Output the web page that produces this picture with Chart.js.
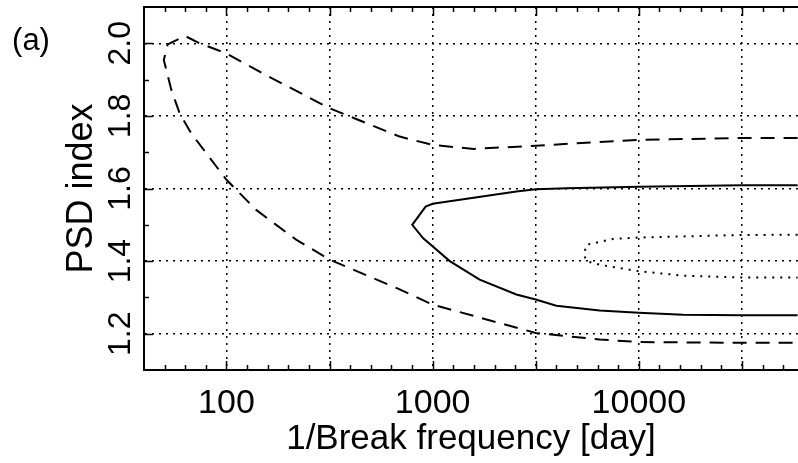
<!DOCTYPE html>
<html>
<head>
<meta charset="utf-8">
<script src="https://cdn.jsdelivr.net/npm/chart.js@4.4.1/dist/chart.umd.min.js"></script>
<style>
  html, body { margin: 0; padding: 0; background: #fff; }
  #wrap { width: 798px; height: 463px; position: relative; }
</style>
</head>
<body>
<div id="wrap"><canvas id="psdChart"></canvas></div>
<script>
// contour data, x is log10(1/break frequency [day]), y is PSD index
const dashedLogT = [4.77, 4.5, 4.0, 3.5, 3.2, 3.0, 2.84, 2.5, 2.19, 2.0, 1.87, 1.80, 1.715, 1.696, 1.733, 1.773, 1.829, 2.0, 2.144, 2.338, 2.5, 2.84, 3.0, 3.5, 3.81, 4.0, 4.5, 4.77];
const dashedIdx  = [1.739, 1.739, 1.734, 1.718, 1.709, 1.72, 1.743, 1.821, 1.913, 1.972, 2.0, 2.02, 1.997, 1.954, 1.871, 1.807, 1.752, 1.624, 1.541, 1.459, 1.404, 1.322, 1.28, 1.202, 1.184, 1.177, 1.175, 1.175];

const solidLogT = [4.77, 4.5, 4.0, 3.65, 3.5, 3.406, 3.0, 2.966, 2.901, 2.953, 3.083, 3.228, 3.406, 3.5, 3.6, 3.81, 4.0, 4.215, 4.5, 4.77];
const solidIdx  = [1.609, 1.609, 1.605, 1.601, 1.598, 1.592, 1.558, 1.55, 1.5, 1.4635, 1.4, 1.349, 1.308, 1.294, 1.277, 1.264, 1.258, 1.2525, 1.251, 1.251];

const dottedLogT = [4.77, 4.5, 4.0, 3.875, 3.746, 3.734, 3.746, 3.81, 4.0, 4.215, 4.5, 4.77];
const dottedIdx  = [1.4725, 1.472, 1.465, 1.461, 1.445, 1.418, 1.40, 1.39, 1.372, 1.36, 1.355, 1.355];

const xGridTicks = [2, 2.5, 3, 3.5, 4, 4.5];
const xTickLabels = { 2: '100', 3: '1000', 4: '10000' };
const yGridTicks = [1.2, 1.4, 1.6, 1.8, 2.0];

const FONT = '"Liberation Sans", Arial, Helvetica, sans-serif';

function toPoints(xs, ys) {
    return xs.map((x, i) => ({ x: x, y: ys[i] }));
}

// inward tick marks, top frame line and the "(a)" panel label
const framePlugin = {
    id: 'frame',
    afterDraw(chart) {
        const ctx = chart.ctx;
        const area = chart.chartArea;
        const xs = chart.scales.x;
        const ys = chart.scales.y;
        ctx.save();
        ctx.strokeStyle = '#000';
        ctx.lineWidth = 2;
        ctx.beginPath();
        ctx.moveTo(area.left, area.top);
        ctx.lineTo(area.right, area.top);
        ctx.stroke();

        ctx.lineWidth = 1.5;
        ctx.beginPath();
        for (let i = 17; i <= 47; i++) {
            const v = i / 10;
            const px = Math.round(xs.getPixelForValue(v)) + 0.5;
            if (px > area.right) continue;
            const len = (i % 5 === 0) ? 9 : 5;
            ctx.moveTo(px, area.bottom);
            ctx.lineTo(px, area.bottom - len);
            ctx.moveTo(px, area.top);
            ctx.lineTo(px, area.top + len);
        }
        for (let i = 12; i <= 20; i++) {
            const v = i / 10;
            const py = Math.round(ys.getPixelForValue(v)) + 0.5;
            const len = (i % 2 === 0) ? 9 : 5;
            ctx.moveTo(area.left, py);
            ctx.lineTo(area.left + len, py);
        }
        ctx.stroke();

        ctx.fillStyle = '#000';
        ctx.font = '31px ' + FONT;
        ctx.textAlign = 'center';
        ctx.textBaseline = 'middle';
        ctx.fillText('(a)', 31, 41);
        ctx.restore();
    }
};

const ctx = document.getElementById('psdChart').getContext('2d');
new Chart(ctx, {
    type: 'scatter',
    data: {
        datasets: [
            {
                label: 'outer',
                data: toPoints(dashedLogT, dashedIdx),
                showLine: true,
                borderColor: '#000',
                borderWidth: 2,
                borderDash: [14, 9],
                pointRadius: 0,
                tension: 0,
                fill: false
            },
            {
                label: 'middle',
                data: toPoints(solidLogT, solidIdx),
                showLine: true,
                borderColor: '#000',
                borderWidth: 2,
                pointRadius: 0,
                tension: 0,
                fill: false
            },
            {
                label: 'inner',
                data: toPoints(dottedLogT, dottedIdx),
                showLine: true,
                borderColor: '#000',
                borderWidth: 2,
                borderDash: [2, 6],
                pointRadius: 0,
                tension: 0,
                fill: false
            }
        ]
    },
    options: {
        responsive: true,
        maintainAspectRatio: false,
        animation: false,
        layout: { padding: { top: 7, right: 0, left: 0, bottom: 0 } },
        plugins: {
            legend: { display: false },
            tooltip: { enabled: false }
        },
        scales: {
            x: {
                type: 'linear',
                min: 1.6,
                max: 4.772,
                afterBuildTicks: (scale) => {
                    scale.ticks = xGridTicks.map(v => ({ value: v }));
                },
                afterFit: (scale) => {
                    scale.height = 93;
                    scale.paddingLeft = 0;
                    scale.paddingRight = 0;
                },
                ticks: {
                    color: '#000',
                    font: { family: FONT, size: 34 },
                    padding: 13,
                    maxRotation: 0,
                    autoSkip: false,
                    callback: (v) => xTickLabels[v] || ''
                },
                grid: {
                    color: '#000',
                    lineWidth: 1.5,
                    drawTicks: false
                },
                border: { display: true, color: '#000', width: 2, dash: [2, 5] },
                title: {
                    display: true,
                    text: '1/Break frequency [day]',
                    color: '#000',
                    font: { family: FONT, size: 35 },
                    padding: { top: 0, bottom: 3 }
                }
            },
            y: {
                type: 'linear',
                min: 1.1,
                max: 2.1,
                afterBuildTicks: (scale) => {
                    scale.ticks = yGridTicks.map(v => ({ value: v }));
                },
                afterFit: (scale) => {
                    scale.width = 144;
                    scale.paddingTop = 0;
                    scale.paddingBottom = 0;
                },
                ticks: {
                    color: '#000',
                    font: { family: FONT, size: 32 },
                    minRotation: 90,
                    maxRotation: 90,
                    crossAlign: 'center',
                    padding: 1,
                    callback: (v) => v.toFixed(1)
                },
                grid: {
                    color: '#000',
                    lineWidth: 1.5,
                    drawTicks: false
                },
                border: { display: true, color: '#000', width: 2, dash: [2, 5] },
                title: {
                    display: true,
                    text: 'PSD index',
                    color: '#000',
                    font: { family: FONT, size: 36 },
                    padding: { top: 60, bottom: 0 }
                }
            }
        }
    },
    plugins: [framePlugin]
});
</script>
</body>
</html>
